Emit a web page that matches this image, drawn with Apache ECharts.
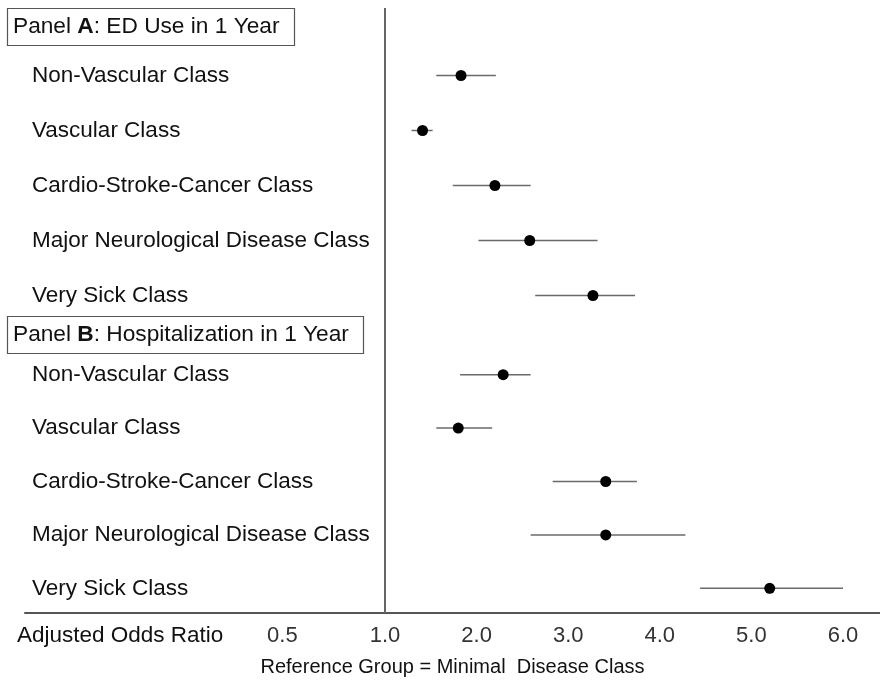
<!DOCTYPE html>
<html>
<head>
<meta charset="utf-8">
<script src="https://cdn.jsdelivr.net/npm/echarts@6/dist/echarts.min.js"></script>
<style>html,body{margin:0;padding:0;background:#fff;}#c{width:880px;height:682px;}</style>
</head>
<body>
<div id="c"></div>
<script>
const classes = ['Non-Vascular Class', 'Vascular Class', 'Cardio-Stroke-Cancer Class', 'Major Neurological Disease Class', 'Very Sick Class'];
// Panel A: ED use in 1 year
const edOR   = [1.83, 1.41, 2.20, 2.58, 3.27];
const edLow  = [1.56, 1.29, 1.74, 2.02, 2.64];
const edHigh = [2.21, 1.52, 2.59, 3.32, 3.73];
// Panel B: Hospitalization in 1 year
const hospOR   = [2.29, 1.80, 3.41, 3.41, 5.20];
const hospLow  = [1.82, 1.56, 2.83, 2.59, 4.44];
const hospHigh = [2.59, 2.17, 3.75, 4.28, 6.00];
// x-axis tick labels (as printed) and where they sit on the axis
const tickValues = [-0.12, 1, 2, 3, 4, 5, 6];
const tickLabels = ['0.5', '1.0', '2.0', '3.0', '4.0', '5.0', '6.0'];

const FONT = 'Liberation Sans, Arial, sans-serif';
const XMIN = -2.93, XMAX = 6.404;

const chart = echarts.init(document.getElementById('c'), null, {renderer: 'canvas'});

function ciSeries(idx, lows, highs) {
  return {
    type: 'custom',
    xAxisIndex: idx, yAxisIndex: idx,
    data: classes.map((c, i) => [lows[i], highs[i], c]),
    encode: {x: [0, 1], y: 2},
    silent: true,
    renderItem: function (params, api) {
      const p1 = api.coord([api.value(0), params.dataIndex]);
      const p2 = api.coord([api.value(1), params.dataIndex]);
      return {
        type: 'line',
        shape: {x1: p1[0], y1: p1[1], x2: p2[0], y2: p2[1]},
        style: {stroke: '#6a6a6a', lineWidth: 1.5}
      };
    },
    z: 2
  };
}
function pointSeries(idx, vals) {
  return {
    type: 'scatter',
    xAxisIndex: idx, yAxisIndex: idx,
    data: classes.map((c, i) => [vals[i], c]),
    symbol: 'circle', symbolSize: 11,
    itemStyle: {color: '#000', opacity: 1},
    silent: true,
    z: 3
  };
}
function catAxis(idx) {
  return {
    gridIndex: idx, type: 'category', data: classes, inverse: true,
    axisLine: {show: false}, axisTick: {show: false}, splitLine: {show: false},
    axisLabel: {align: 'left', margin: -7, fontSize: 22.5, fontFamily: FONT, color: '#111', lineHeight: 26, padding: [7, 0, 0, 0]}
  };
}
function hiddenX(idx) {
  return {gridIndex: idx, type: 'value', min: XMIN, max: XMAX, show: false};
}
function panelTitle(letter, rest, top) {
  return {
    text: '{n|Panel }{b|' + letter + '}{n|: ' + rest + '}',
    left: 7, top: top,
    borderColor: '#555', borderWidth: 1.2,
    padding: [7, 15, 7, 6],
    textStyle: {
      fontWeight: 'normal',
      rich: {
        n: {fontSize: 22.7, fontFamily: FONT, color: '#111', fontWeight: 'normal', lineHeight: 24},
        b: {fontSize: 22.7, fontFamily: FONT, color: '#111', fontWeight: 'bold', lineHeight: 24}
      }
    }
  };
}

const option = {
  backgroundColor: '#fff',
  animation: false,
  title: [
    panelTitle('A', 'ED Use in 1 Year', 8),
    panelTitle('B', 'Hospitalization in 1 Year', 316)
  ],
  grid: [
    {left: 25, right: 0, top: 8, bottom: 67},      // frame: reference line + x axis
    {left: 25, right: 0, top: 48, height: 275},    // panel A
    {left: 25, right: 0, top: 348, height: 267}    // panel B
  ],
  xAxis: [
    {
      gridIndex: 0, type: 'value', min: XMIN, max: XMAX,
      axisLine: {show: true, onZero: false, lineStyle: {color: '#555', width: 2}},
      axisTick: {show: false},
      splitLine: {show: false},
      axisLabel: {
        customValues: tickValues,
        formatter: function (v) {
          const i = tickValues.findIndex(t => Math.abs(t - v) < 1e-6);
          return i >= 0 ? tickLabels[i] : '';
        },
        margin: 12, fontSize: 22, fontFamily: FONT, color: '#333'
      },
      name: 'Reference Group = Minimal  Disease Class',
      nameLocation: 'middle', nameGap: 44,
      nameTextStyle: {fontSize: 20, fontFamily: FONT, color: '#111'}
    },
    hiddenX(1),
    hiddenX(2)
  ],
  yAxis: [
    {gridIndex: 0, type: 'value', min: 0, max: 1, show: false},
    catAxis(1),
    catAxis(2)
  ],
  graphic: [
    {
      type: 'text', x: 17, y: 636,
      style: {text: 'Adjusted Odds Ratio', fontSize: 22.5, fontFamily: FONT, fill: '#111', verticalAlign: 'middle'}
    }
  ],
  series: [
    {
      type: 'scatter', xAxisIndex: 0, yAxisIndex: 0, data: [],
      markLine: {
        silent: true, symbol: 'none', label: {show: false},
        lineStyle: {color: '#666', width: 2, type: 'solid'},
        data: [{xAxis: 1}]
      }
    },
    ciSeries(1, edLow, edHigh),
    pointSeries(1, edOR),
    ciSeries(2, hospLow, hospHigh),
    pointSeries(2, hospOR)
  ]
};
chart.setOption(option);
</script>
</body>
</html>
